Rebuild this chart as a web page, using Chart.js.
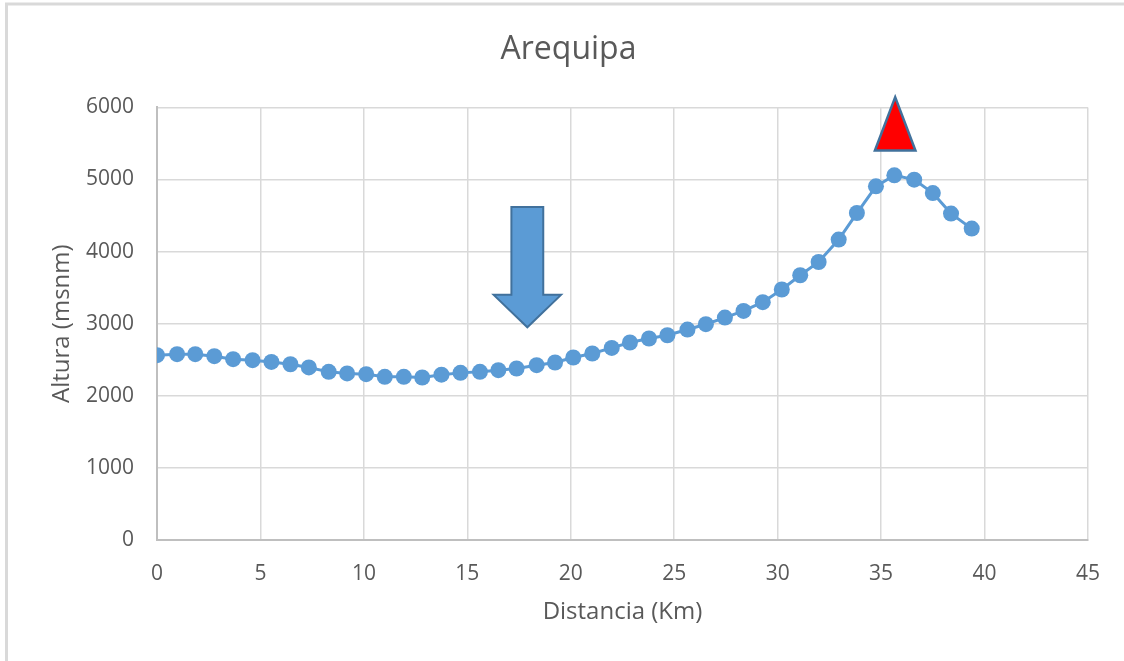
<!DOCTYPE html>
<html>
<head>
<meta charset="utf-8">
<script src="https://cdn.jsdelivr.net/npm/chart.js@4"></script>
<style>
  html, body { margin: 0; padding: 0; background: #fff; }
  #wrap { width: 1124px; height: 661px; }
</style>
</head>
<body>
<div id="wrap"><canvas id="myChart" width="1124" height="661"></canvas></div>
<script>
// distance along the profile (km) and elevation (m a.s.l.)
const distanceKm = [
  0, 0.97, 1.85, 2.77, 3.68, 4.62, 5.53, 6.45, 7.34, 8.30,
  9.19, 10.11, 11.01, 11.93, 12.82, 13.75, 14.67, 15.61, 16.50, 17.38,
  18.35, 19.24, 20.12, 21.04, 21.98, 22.86, 23.78, 24.67, 25.64, 26.53,
  27.45, 28.35, 29.28, 30.20, 31.09, 31.98, 32.95, 33.83, 34.75, 35.64,
  36.60, 37.50, 38.38, 39.38
];
const alturaMsnm = [
  2563, 2577, 2577, 2549, 2508, 2494, 2470, 2438, 2393, 2332,
  2310, 2300, 2263, 2263, 2254, 2293, 2318, 2332, 2355, 2379,
  2425, 2462, 2531, 2587, 2664, 2739, 2795, 2840, 2919, 2993,
  3085, 3177, 3298, 3474, 3672, 3856, 4167, 4535, 4905, 5058,
  4998, 4812, 4527, 4319
];
const xTicks = [0, 5, 10, 15, 20, 25, 30, 35, 40, 45];
const yTicks = [0, 1000, 2000, 3000, 4000, 5000, 6000];

// shapes placed on the chart, in data units
const arrowMark = { x: 17.9, top: 4620, headBase: 3400, tip: 2950, shaftHalf: 0.77, headHalf: 1.63 };
const peakMark = { x: 35.68, apex: 6142, base: 5403, half: 0.98 };

const textColor = '#595959';
const fontFamily = "'Open Sans', 'Noto Sans', sans-serif";

const frame = {
  id: 'frame',
  beforeDraw(chart) {
    const ctx = chart.ctx;
    ctx.save();
    ctx.fillStyle = '#fff';
    ctx.fillRect(0, 0, chart.width, chart.height);
    ctx.strokeStyle = '#d9d9d9';
    ctx.lineWidth = 3;
    ctx.beginPath();
    ctx.moveTo(6.5, chart.height);
    ctx.lineTo(6.5, 4);
    ctx.lineTo(chart.width, 4);
    ctx.stroke();
    ctx.restore();
  }
};

const marks = {
  id: 'marks',
  afterDraw(chart) {
    const ctx = chart.ctx;
    const xs = chart.scales.x, ys = chart.scales.y;
    const px = v => xs.getPixelForValue(v);
    const py = v => ys.getPixelForValue(v);
    ctx.save();
    ctx.lineJoin = 'miter';

    const a = arrowMark;
    ctx.beginPath();
    ctx.moveTo(px(a.x - a.shaftHalf), py(a.top));
    ctx.lineTo(px(a.x + a.shaftHalf), py(a.top));
    ctx.lineTo(px(a.x + a.shaftHalf), py(a.headBase));
    ctx.lineTo(px(a.x + a.headHalf), py(a.headBase));
    ctx.lineTo(px(a.x), py(a.tip));
    ctx.lineTo(px(a.x - a.headHalf), py(a.headBase));
    ctx.lineTo(px(a.x - a.shaftHalf), py(a.headBase));
    ctx.closePath();
    ctx.fillStyle = '#5B9BD5';
    ctx.fill();
    ctx.strokeStyle = '#41719C';
    ctx.lineWidth = 2;
    ctx.stroke();

    const p = peakMark;
    ctx.beginPath();
    ctx.moveTo(px(p.x), py(p.apex));
    ctx.lineTo(px(p.x + p.half), py(p.base));
    ctx.lineTo(px(p.x - p.half), py(p.base));
    ctx.closePath();
    ctx.fillStyle = '#FF0000';
    ctx.fill();
    ctx.strokeStyle = '#41719C';
    ctx.lineWidth = 2.5;
    ctx.stroke();
    ctx.restore();
  }
};

const data = {
  datasets: [{
    label: 'Arequipa',
    data: distanceKm.map((d, i) => ({ x: d, y: alturaMsnm[i] })),
    borderColor: '#5B9BD5',
    backgroundColor: '#5B9BD5',
    borderWidth: 3,
    pointRadius: 8,
    pointBorderWidth: 0,
    pointBackgroundColor: '#5B9BD5',
    tension: 0
  }]
};

const config = {
  type: 'line',
  data: data,
  options: {
    responsive: false,
    animation: false,
    devicePixelRatio: 1,
    layout: { padding: { left: 49, right: 36, top: 0, bottom: 0 } },
    plugins: {
      legend: { display: false },
      tooltip: { enabled: false },
      title: {
        display: true,
        text: 'Arequipa',
        color: textColor,
        font: { size: 32, family: fontFamily, weight: 'normal' },
        padding: { top: 31, bottom: 38 }
      }
    },
    scales: {
      x: {
        type: 'linear',
        min: 0,
        max: 45,
        afterBuildTicks: s => { s.ticks = xTicks.map(v => ({ value: v })); },
        afterFit: s => { s.height = 121; },
        grid: { color: '#d9d9d9', lineWidth: 1.5, drawTicks: false },
        border: { color: '#bfbfbf', width: 2 },
        ticks: { color: textColor, padding: 21, font: { size: 21, family: fontFamily }, callback: v => String(v) },
        title: {
          display: true,
          text: 'Distancia (Km)',
          color: textColor,
          font: { size: 24, family: fontFamily },
          padding: { top: 0, bottom: 34 }
        }
      },
      y: {
        min: 0,
        max: 6000,
        afterBuildTicks: s => { s.ticks = yTicks.map(v => ({ value: v })); },
        afterFit: s => { s.width = 108; },
        grid: { color: '#d9d9d9', lineWidth: 1.5, drawTicks: false },
        border: { color: '#bfbfbf', width: 2 },
        ticks: { color: textColor, padding: 23, font: { size: 21, family: fontFamily }, callback: v => String(v) },
        title: {
          display: true,
          text: 'Altura (msnm)',
          color: textColor,
          font: { size: 24, family: fontFamily },
          padding: { top: -1, bottom: 0 }
        }
      }
    }
  },
  plugins: [frame, marks]
};

new Chart(
  document.getElementById('myChart'),
  config
);
</script>
</body>
</html>
